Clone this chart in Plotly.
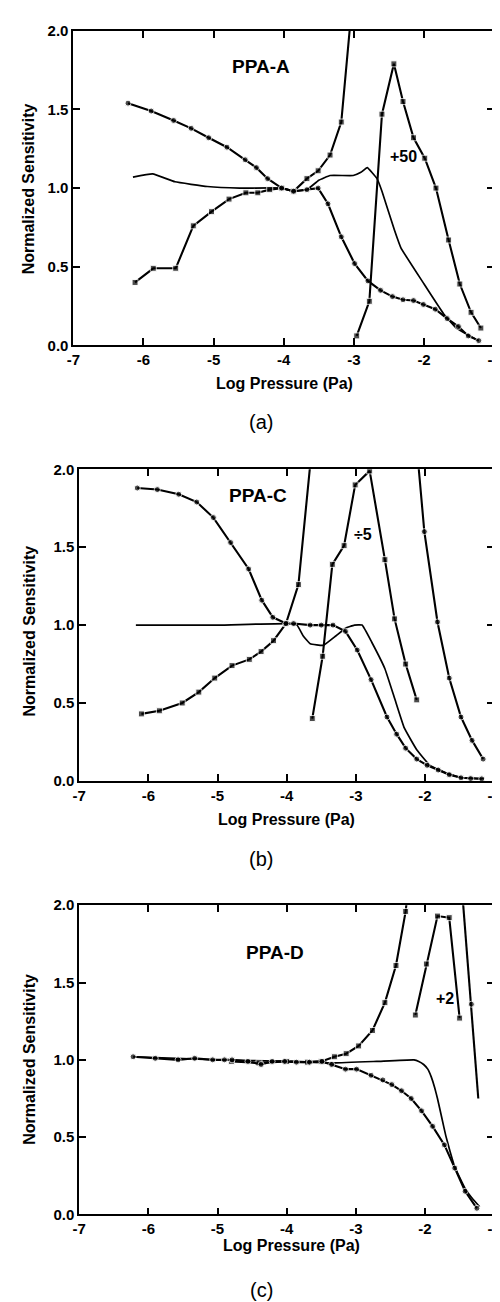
import plotly.graph_objects as go

# ---------------- data ----------------
x_ticks = [-7, -6, -5, -4, -3, -2, -1]
x_tick_labels = ["-7", "-6", "-5", "-4", "-3", "-2", "-1"]
y_ticks = [0.0, 0.5, 1.0, 1.5, 2.0]
y_tick_labels = ["0.0", "0.5", "1.0", "1.5", "2.0"]

# Panel (a) PPA-A
A_sq_x = [-6.12, -5.86, -5.54, -5.29, -5.03, -4.78, -4.54, -4.37, -4.20, -4.03, -3.86, -3.67, -3.51, -3.34, -3.18, -3.00]
A_sq_y = [0.40, 0.49, 0.49, 0.76, 0.85, 0.93, 0.97, 0.97, 0.99, 1.00, 0.98, 1.06, 1.11, 1.21, 1.42, 2.30]
A_ci_x = [-6.22, -5.89, -5.57, -5.32, -5.07, -4.81, -4.55, -4.39, -4.23, -4.03, -3.86, -3.67, -3.51, -3.37,
          -3.18, -2.99, -2.80, -2.62, -2.45, -2.30, -2.15, -2.01, -1.84, -1.67, -1.51, -1.37, -1.22]
A_ci_y = [1.54, 1.49, 1.43, 1.38, 1.32, 1.26, 1.18, 1.13, 1.06, 1.00, 0.98, 0.99, 1.00, 0.90,
          0.69, 0.52, 0.41, 0.35, 0.31, 0.29, 0.285, 0.26, 0.23, 0.17, 0.12, 0.06, 0.03]
A_plain_x = [-6.15, -5.87, -5.55, -5.09, -4.63, -4.03, -3.86, -3.67, -3.50, -3.34, -3.01, -2.90, -2.81,
             -2.67, -2.60, -2.42, -2.33, -2.00, -1.72, -1.54, -1.22]
A_plain_y = [1.07, 1.09, 1.04, 1.01, 1.00, 1.00, 0.98, 0.99, 1.05, 1.08, 1.08, 1.10, 1.13,
             1.06, 0.98, 0.73, 0.62, 0.39, 0.20, 0.11, 0.03]
A_div_x = [-2.96, -2.78, -2.60, -2.43, -2.30, -2.15, -1.99, -1.83, -1.65, -1.49, -1.33, -1.19]
A_div_y = [0.06, 0.28, 1.47, 1.79, 1.55, 1.32, 1.19, 1.00, 0.67, 0.39, 0.21, 0.11]

# Panel (b) PPA-C
B_ci_x = [-6.16, -5.87, -5.56, -5.30, -5.06, -4.81, -4.55, -4.36, -4.20, -4.01, -3.90, -3.66, -3.50, -3.33,
          -3.15, -2.98, -2.78, -2.55, -2.41, -2.28, -2.12, -1.97, -1.81, -1.65, -1.48, -1.34, -1.18]
B_ci_y = [1.88, 1.87, 1.84, 1.79, 1.69, 1.53, 1.36, 1.16, 1.05, 1.01, 1.01, 1.00, 1.00, 1.00,
          0.96, 0.84, 0.65, 0.41, 0.30, 0.21, 0.14, 0.10, 0.07, 0.04, 0.02, 0.015, 0.013]
B_sq_x = [-6.10, -5.84, -5.51, -5.27, -5.04, -4.79, -4.54, -4.37, -4.19, -4.01, -3.83, -3.60]
B_sq_y = [0.43, 0.45, 0.50, 0.57, 0.66, 0.74, 0.78, 0.83, 0.90, 1.01, 1.26, 2.30]
B_plain_x = [-6.18, -5.00, -4.00, -3.85, -3.76, -3.66, -3.47, -3.29, -3.15, -3.02, -2.91, -2.77,
             -2.58, -2.44, -2.30, -2.12, -1.93, -1.69, -1.46, -1.15]
B_plain_y = [1.00, 1.00, 1.01, 1.00, 0.93, 0.88, 0.87, 0.93, 0.98, 1.00, 1.00, 0.89,
             0.72, 0.53, 0.34, 0.20, 0.10, 0.05, 0.02, 0.015]
B_div1_x = [-3.63, -3.48, -3.34, -3.17, -3.01, -2.80, -2.58, -2.44, -2.28, -2.12]
B_div1_y = [0.40, 0.80, 1.39, 1.51, 1.90, 1.99, 1.42, 1.04, 0.75, 0.52]
B_div2_x = [-2.15, -2.01, -1.82, -1.65, -1.48, -1.32, -1.16]
B_div2_y = [2.30, 1.60, 1.02, 0.66, 0.41, 0.26, 0.14]

# Panel (c) PPA-D
C_ci_x = [-6.22, -5.90, -5.57, -5.33, -5.07, -4.90, -4.79, -4.56, -4.37, -4.21, -4.03, -3.86, -3.67, -3.49,
          -3.35, -3.15, -2.99, -2.78, -2.61, -2.48, -2.34, -2.20, -2.05, -1.89, -1.72, -1.57, -1.42, -1.25]
C_ci_y = [1.02, 1.01, 1.00, 1.01, 1.00, 1.00, 1.00, 0.99, 0.97, 0.99, 0.99, 0.985, 0.985, 0.99,
          0.97, 0.94, 0.94, 0.90, 0.87, 0.84, 0.80, 0.75, 0.67, 0.57, 0.45, 0.30, 0.15, 0.04]
C_sq_x = [-4.80, -4.40, -4.00, -3.70, -3.50, -3.31, -3.14, -2.96, -2.76, -2.58, -2.42, -2.28, -2.20]
C_sq_y = [0.99, 0.98, 0.99, 0.985, 0.99, 1.02, 1.04, 1.09, 1.19, 1.37, 1.61, 1.96, 2.30]
C_plain_x = [-6.20, -5.00, -4.00, -3.31, -2.70, -2.16, -2.09, -2.02, -1.96, -1.91, -1.86, -1.82, -1.76,
             -1.70, -1.64, -1.58, -1.50, -1.41, -1.31, -1.21]
C_plain_y = [1.02, 1.00, 0.99, 0.98, 0.99, 1.00, 0.99, 0.97, 0.94, 0.89, 0.82, 0.75, 0.63,
             0.51, 0.41, 0.32, 0.24, 0.16, 0.10, 0.05]
C_div1_x = [-2.14, -1.98, -1.82, -1.65, -1.50]
C_div1_y = [1.29, 1.62, 1.93, 1.92, 1.27]
C_div2_x = [-1.50, -1.33, -1.23]
C_div2_y = [2.30, 1.36, 0.75]

panel_names = ["PPA-A", "PPA-C", "PPA-D"]
divisor_labels = ["+50", "÷5", "+2"]
panel_captions = ["(a)", "(b)", "(c)"]

# ---------------- figure ----------------
W, H = 500, 1302
FONT = "Arial, Liberation Sans, Helvetica, sans-serif"
fig = go.Figure()


def px_x(v):
    return v / W


def px_y(v):
    return 1 - v / H


def add_marked(x, y, axis, symbol, last_marker=True):
    sizes = [6] * len(x)
    if not last_marker:
        sizes[-1] = 0
    fig.add_trace(go.Scatter(
        x=x, y=y, mode="lines+markers", xaxis="x" + axis, yaxis="y" + axis,
        line=dict(color="black", width=2.1),
        marker=dict(symbol=symbol, size=sizes, color="black"),
        showlegend=False, hoverinfo="skip"))


def add_plain(x, y, axis):
    fig.add_trace(go.Scatter(
        x=x, y=y, mode="lines", xaxis="x" + axis, yaxis="y" + axis,
        line=dict(color="black", width=1.7, shape="spline", smoothing=0.3),
        showlegend=False, hoverinfo="skip"))


# panel a
add_plain(A_plain_x, A_plain_y, "")
add_marked(A_sq_x, A_sq_y, "", "square")
add_marked(A_ci_x, A_ci_y, "", "circle")
add_marked(A_div_x, A_div_y, "", "square")
# panel b
add_plain(B_plain_x, B_plain_y, "2")
add_marked(B_sq_x, B_sq_y, "2", "square")
add_marked(B_ci_x, B_ci_y, "2", "circle")
add_marked(B_div1_x, B_div1_y, "2", "square")
add_marked(B_div2_x, B_div2_y, "2", "circle")
# panel c
add_plain(C_plain_x, C_plain_y, "3")
add_marked(C_sq_x, C_sq_y, "3", "square")
add_marked(C_ci_x, C_ci_y, "3", "circle")
add_marked(C_div1_x, C_div1_y, "3", "square")
add_marked(C_div2_x, C_div2_y, "3", "circle", last_marker=False)

# panel geometry in pixels: (left, right, top, bottom)
boxes = [(60, 493, 14, 332.7), (66, 493, 458.3, 774), (66, 493, 900, 1213.3)]

axis_common = dict(showline=True, linecolor="black", linewidth=1.8, mirror="ticks",
                   ticks="inside", ticklen=7, tickwidth=1.6, tickcolor="black",
                   showgrid=False, zeroline=False,
                   tickfont=dict(family=FONT, size=15, color="black", weight="bold"))

layout = dict(width=W, height=H, margin=dict(l=0, r=0, t=0, b=0),
              paper_bgcolor="white", plot_bgcolor="white", showlegend=False)

names = ["", "2", "3"]
for i, (l, r, t, b) in enumerate(boxes):
    n = names[i]
    layout["xaxis" + n] = dict(axis_common, domain=[px_x(l), px_x(r)], range=[-7, -1],
                               tickvals=x_ticks, ticktext=["<b>%s</b>" % s for s in x_tick_labels],
                               anchor="y" + n)
    layout["yaxis" + n] = dict(axis_common, domain=[px_y(b), px_y(t)], range=[0, 2],
                               tickvals=y_ticks, ticktext=["<b>%s</b>" % s for s in y_tick_labels],
                               anchor="x" + n)

fig.update_layout(**layout)

# text positions (pixels)
name_pos = [(253, 50), (250, 485), (268, 948)]
div_pos = [(400, 141), (358, 524), (442, 994)]
xtitle_pos = [(277, 371), (279, 813), (284, 1245)]
ytitle_pos = [(14, 174), (15, 622), (15, 1056)]
caption_pos = [(253, 410), (253, 853), (254, 1290)]

ann = []
for i in range(3):
    ann.append(dict(x=px_x(name_pos[i][0]), y=px_y(name_pos[i][1]), xref="paper", yref="paper",
                    text="<b>%s</b>" % panel_names[i], showarrow=False, xanchor="center", yanchor="middle",
                    font=dict(family=FONT, size=19, color="black")))
    ann.append(dict(x=px_x(div_pos[i][0]), y=px_y(div_pos[i][1]), xref="paper", yref="paper",
                    text="<b>%s</b>" % divisor_labels[i], showarrow=False, xanchor="center", yanchor="middle",
                    font=dict(family=FONT, size=16, color="black")))
    ann.append(dict(x=px_x(xtitle_pos[i][0]), y=px_y(xtitle_pos[i][1]), xref="paper", yref="paper",
                    text="<b>Log Pressure (Pa)</b>", showarrow=False, xanchor="center", yanchor="middle",
                    font=dict(family=FONT, size=16, color="black")))
    ann.append(dict(x=px_x(ytitle_pos[i][0]), y=px_y(ytitle_pos[i][1]), xref="paper", yref="paper",
                    text="<b>Normalized Sensitivity</b>", showarrow=False, textangle=-90,
                    xanchor="center", yanchor="middle",
                    font=dict(family=FONT, size=16, color="black")))
    ann.append(dict(x=px_x(caption_pos[i][0]), y=px_y(caption_pos[i][1]), xref="paper", yref="paper",
                    text=panel_captions[i], showarrow=False, xanchor="center", yanchor="middle",
                    font=dict(family=FONT, size=20, color="black")))

fig.update_layout(annotations=ann)
fig.write_html("out.html")
